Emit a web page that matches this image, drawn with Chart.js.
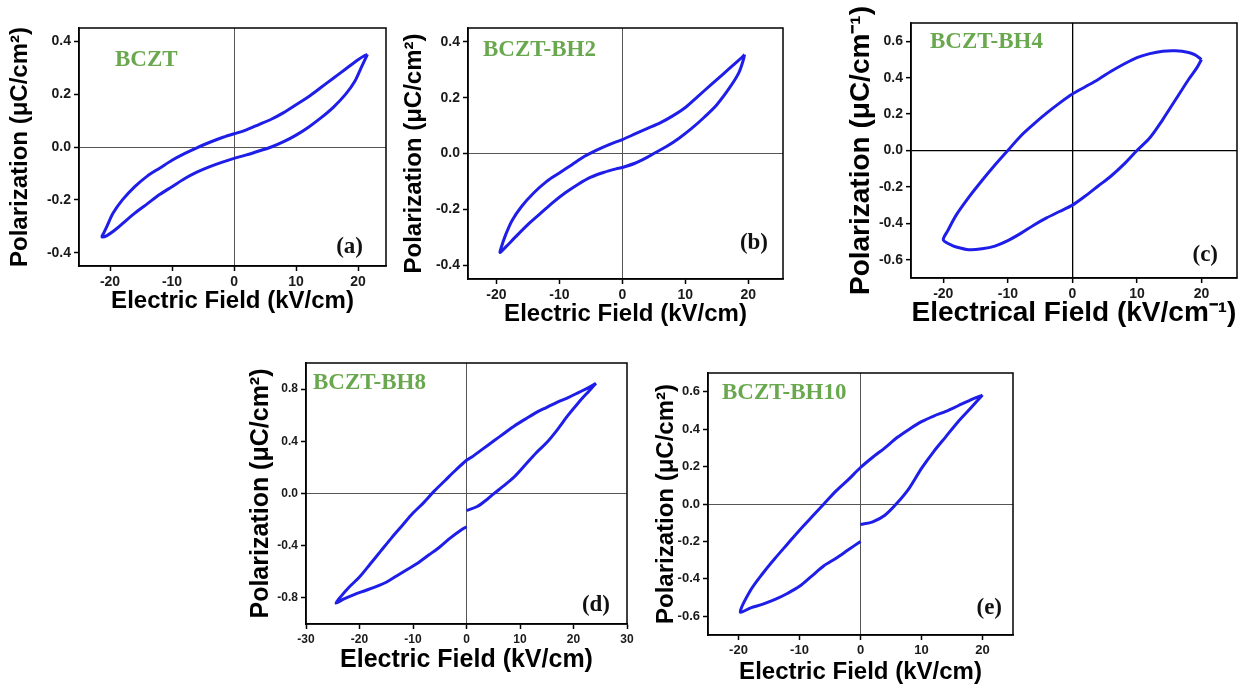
<!DOCTYPE html>
<html>
<head>
<meta charset="utf-8">
<title>P-E hysteresis loops, BCZT-BH ceramics</title>
<script src="https://cdn.jsdelivr.net/npm/chart.js@4.4.1/dist/chart.umd.min.js"></script>
<style>
  body { margin: 0; background: #fff; }
  canvas { position: absolute; }
</style>
</head>
<body>
<canvas id="chartA"></canvas>
<canvas id="chartB"></canvas>
<canvas id="chartC"></canvas>
<canvas id="chartD"></canvas>
<canvas id="chartE"></canvas>
<script>
// loops: upper branch (field going down), then lower branch back up.
// null = the break in the lower branch at E = 0 (panels d and e)

// (a) BCZT
const fieldA = [21.5, 21, 20, 18, 16, 14, 12, 10, 8, 6, 4, 2, 0, -2, -4, -6, -8, -10, -12, -14, -16, -18, -19.5, -20.5, -21, -21.3,
                -20.5, -19, -18, -16, -14, -12, -10, -8, -6, -4, -2, 0, 2, 4, 6, 8, 10, 12, 14, 16, 18, 19.5, 20.5, 21.3, 21.5];
const polA = [0.35, 0.345, 0.33, 0.295, 0.26, 0.225, 0.19, 0.16, 0.13, 0.105, 0.085, 0.065, 0.05, 0.035, 0.017, -0.003, -0.025, -0.05, -0.08, -0.11, -0.15, -0.2, -0.25, -0.3, -0.325, -0.34,
              -0.335, -0.31, -0.29, -0.25, -0.215, -0.18, -0.15, -0.12, -0.095, -0.075, -0.058, -0.043, -0.03, -0.015, 0.0, 0.02, 0.045, 0.075, 0.11, 0.15, 0.2, 0.25, 0.3, 0.34, 0.35];

// (b) BCZT-BH2
const fieldB = [19.4, 19, 18, 16, 14, 12, 10, 8, 6, 4, 2, 0, -2, -4, -6, -8, -10, -12, -14, -16, -17.5, -18.5, -19.2, -19.4,
                -18.5, -17, -15, -13, -11, -9, -7, -5, -3, -1, 0, 2, 4, 5, 7, 9, 11, 13, 15, 17, 18.5, 19.2, 19.4];
const polB = [0.355, 0.345, 0.325, 0.285, 0.245, 0.205, 0.165, 0.135, 0.11, 0.09, 0.07, 0.05, 0.033, 0.013, -0.01, -0.04, -0.07, -0.1, -0.14, -0.19, -0.24, -0.29, -0.335, -0.355,
              -0.335, -0.3, -0.255, -0.215, -0.175, -0.14, -0.11, -0.085, -0.068, -0.055, -0.05, -0.035, -0.013, 0.0, 0.025, 0.055, 0.09, 0.13, 0.175, 0.235, 0.29, 0.335, 0.355];

// (c) BCZT-BH4
const fieldC = [20, 19, 18, 16, 14, 12, 10, 8, 6, 4, 2, 0, -2, -4, -6, -8, -10, -12, -14, -16, -18, -19.3, -20,
                -19, -18, -16, -14, -12, -10, -8, -6, -4, -2, 0, 2, 4, 6, 8, 10, 12, 14, 16, 18, 19.3, 20];
const polC = [0.5, 0.525, 0.538, 0.547, 0.545, 0.532, 0.51, 0.475, 0.435, 0.39, 0.35, 0.31, 0.26, 0.205, 0.145, 0.08, 0.0, -0.08, -0.165, -0.255, -0.355, -0.44, -0.49,
              -0.515, -0.53, -0.545, -0.54, -0.525, -0.495, -0.455, -0.41, -0.37, -0.335, -0.3, -0.25, -0.195, -0.14, -0.075, 0.0, 0.07, 0.17, 0.28, 0.39, 0.455, 0.5];

// (d) BCZT-BH8
const fieldD = [24.2, 23, 21, 19, 17, 15, 13, 11, 9, 7, 5, 3, 1, 0, -2, -4, -6, -8, -10, -12, -14, -16, -18, -20, -22, -23.5, -24.4,
                -23, -21, -19, -17, -15, -13, -11, -9, -7, -5, -3, -1, 0, null, 0, 2, 4, 5, 7, 9, 11, 13, 15, 17, 19, 21, 23, 24.2];
const polD = [0.845, 0.815, 0.775, 0.735, 0.7, 0.66, 0.62, 0.57, 0.52, 0.46, 0.4, 0.34, 0.28, 0.255, 0.18, 0.1, 0.02, -0.07, -0.15, -0.245, -0.34, -0.44, -0.54, -0.64, -0.72, -0.79, -0.84,
              -0.81, -0.775, -0.745, -0.715, -0.68, -0.63, -0.58, -0.53, -0.47, -0.41, -0.34, -0.28, -0.255, null, -0.13, -0.1, -0.04, -0.005, 0.06, 0.13, 0.22, 0.31, 0.39, 0.49, 0.6, 0.7, 0.79, 0.845];

// (e) BCZT-BH10
const fieldE = [20, 18, 16, 14, 12, 10, 8, 6, 4, 2, 0, -2, -4, -6, -8, -10, -12, -14, -16, -18, -19.7,
                -18, -16, -14, -12, -10, -8, -6, -4, -2, 0, null, 0, 2, 4, 6, 8, 10, 12, 14, 16, 18, 20];
const polE = [0.582, 0.555, 0.525, 0.495, 0.47, 0.44, 0.4, 0.355, 0.3, 0.25, 0.195, 0.13, 0.07, 0.0, -0.07, -0.14, -0.215, -0.29, -0.37, -0.46, -0.577,
              -0.555, -0.535, -0.51, -0.478, -0.44, -0.385, -0.33, -0.29, -0.245, -0.2, null, -0.11, -0.095, -0.06, 0.005, 0.085, 0.19, 0.28, 0.36, 0.44, 0.51, 0.582];

// tick values
const ticksE20 = [-20, -10, 0, 10, 20];
const ticksE30 = [-30, -20, -10, 0, 10, 20, 30];
const ticksP04 = [-0.4, -0.2, 0, 0.2, 0.4];
const ticksP06 = [-0.6, -0.4, -0.2, 0, 0.2, 0.4, 0.6];
const ticksP08 = [-0.8, -0.4, 0, 0.4, 0.8];

const polTitle = 'Polarization (μC/cm²)';
const fieldTitle = 'Electric Field (kV/cm)';

Chart.defaults.font.family = '"Liberation Sans", Arial, sans-serif';

// box = plot frame [left, top, right, bottom] on the page
const panels = [
    { id: 'chartA', E: fieldA, P: polA, xMin: -25, xMax: 24.5, yMin: -0.45, yMax: 0.45, xTicks: ticksE20, yTicks: ticksP04,
      box: [79, 28, 386, 266], titleSize: 24, tickSize: 14, yTitleX: 20, xTitleY: 302, zero: '#555',
      yTitle: polTitle, xTitle: fieldTitle, name: 'BCZT', tag: '(a)', nameAt: [36, 32], tagAt: [23, 19] },
    { id: 'chartB', E: fieldB, P: polB, xMin: -24.5, xMax: 25.5, yMin: -0.45, yMax: 0.45, xTicks: ticksE20, yTicks: ticksP04,
      box: [468, 28, 783, 279], titleSize: 24, tickSize: 14, yTitleX: 414, xTitleY: 315, zero: '#555',
      yTitle: polTitle, xTitle: fieldTitle, name: 'BCZT-BH2', tag: '(b)', nameAt: [15, 22], tagAt: [15, 36] },
    { id: 'chartC', E: fieldC, P: polC, xMin: -25, xMax: 25.5, yMin: -0.7, yMax: 0.7, xTicks: ticksE20, yTicks: ticksP06,
      box: [911, 23, 1237, 278], titleSize: 28, tickSize: 14, yTitleX: 861, xTitleY: 313, zero: '#000',
      yTitle: 'Polarization (μC/cm⁻¹)', xTitle: 'Electrical Field (kV/cm⁻¹)', name: 'BCZT-BH4', tag: '(c)', nameAt: [19, 19], tagAt: [19, 23] },
    { id: 'chartD', E: fieldD, P: polD, xMin: -30, xMax: 30, yMin: -1, yMax: 1, xTicks: ticksE30, yTicks: ticksP08,
      box: [306, 363, 627, 624], titleSize: 25, tickSize: 12, yTitleX: 261, xTitleY: 660, zero: '#555',
      yTitle: polTitle, xTitle: fieldTitle, name: 'BCZT-BH8', tag: '(d)', nameAt: [7, 20], tagAt: [17, 19] },
    { id: 'chartE', E: fieldE, P: polE, xMin: -25, xMax: 25, yMin: -0.7, yMax: 0.7, xTicks: ticksE20, yTicks: ticksP06,
      box: [708, 373, 1013, 635], titleSize: 24, tickSize: 13, yTitleX: 666, xTitleY: 673, zero: '#555',
      yTitle: polTitle, xTitle: fieldTitle, name: 'BCZT-BH10', tag: '(e)', nameAt: [14, 20], tagAt: [11, 27] }
];

// frame round the plot + sample name and panel letter
const frameAndLabels = {
    id: 'frameAndLabels',
    afterDatasetsDraw(chart, args, opts) {
        const { ctx, chartArea: a } = chart;
        ctx.save();
        ctx.strokeStyle = '#000';
        ctx.lineWidth = 1.5;
        ctx.strokeRect(a.left, a.top, a.right - a.left, a.bottom - a.top);

        ctx.font = 'bold 23px "Liberation Serif", "Times New Roman", serif';
        ctx.textBaseline = 'middle';
        ctx.textAlign = 'left';
        ctx.fillStyle = '#6aa84f';
        ctx.fillText(opts.name, a.left + opts.nameAt[0], a.top + opts.nameAt[1]);
        ctx.textAlign = 'right';
        ctx.fillStyle = '#111';
        ctx.fillText(opts.tag, a.right - opts.tagAt[0], a.bottom - opts.tagAt[1]);
        ctx.restore();
    }
};

const PAD_RIGHT = 10;

function makeAxis(p, ticks, fmt, size, title) {
    return {
        type: 'linear',
        afterBuildTicks: s => { s.ticks = ticks.map(v => ({ value: v })); },
        afterFit: s => { if (s.isHorizontal()) s.height = size; else s.width = size; },
        grid: {
            color: c => (c.tick && c.tick.value === 0) ? p.zero : 'transparent',
            lineWidth: p.zero === '#000' ? 1.3 : 1,
            tickColor: '#000',
            tickLength: 5,
            tickWidth: 1.5
        },
        border: { display: true, color: '#000', width: 1.5 },
        ticks: {
            color: '#1a1a1a',
            padding: 3,
            autoSkip: false,
            maxRotation: 0,
            font: { size: p.tickSize, weight: 'bold' },
            callback: fmt
        },
        title: {
            display: true,
            text: title,
            color: '#000',
            padding: 0,
            font: { size: p.titleSize, weight: 'bold' }
        }
    };
}

panels.forEach(p => {
    const [L, T, R, B] = p.box;
    const lh = p.titleSize * 1.2;
    const left = Math.round(p.yTitleX - lh / 2);
    const bottom = Math.round(p.xTitleY + lh / 2);
    const top = Math.max(0, T - 30);
    const right = R + PAD_RIGHT;

    const canvas = document.getElementById(p.id);
    canvas.width = right - left;
    canvas.height = bottom - top;
    canvas.style.left = left + 'px';
    canvas.style.top = top + 'px';

    const xAxis = makeAxis(p, p.xTicks, v => String(v), bottom - B, p.xTitle);
    xAxis.min = p.xMin; xAxis.max = p.xMax;
    const yAxis = makeAxis(p, p.yTicks, v => Number(v).toFixed(1), L - left, p.yTitle);
    yAxis.min = p.yMin; yAxis.max = p.yMax;

    new Chart(canvas, {
        type: 'scatter',
        data: {
            datasets: [{
                data: p.E.map((x, i) => ({ x: x, y: p.P[i] })),
                showLine: true,
                spanGaps: false,
                borderColor: '#1e1ee8',
                borderWidth: 3,
                pointRadius: 0,
                tension: 0.3
            }]
        },
        options: {
            responsive: false,
            animation: false,
            devicePixelRatio: 1,
            layout: { padding: { top: T - top, right: PAD_RIGHT, left: 0, bottom: 0 } },
            scales: { x: xAxis, y: yAxis },
            plugins: {
                legend: { display: false },
                tooltip: { enabled: false },
                frameAndLabels: { name: p.name, tag: p.tag, nameAt: p.nameAt, tagAt: p.tagAt }
            }
        },
        plugins: [frameAndLabels]
    });
});
</script>
</body>
</html>
